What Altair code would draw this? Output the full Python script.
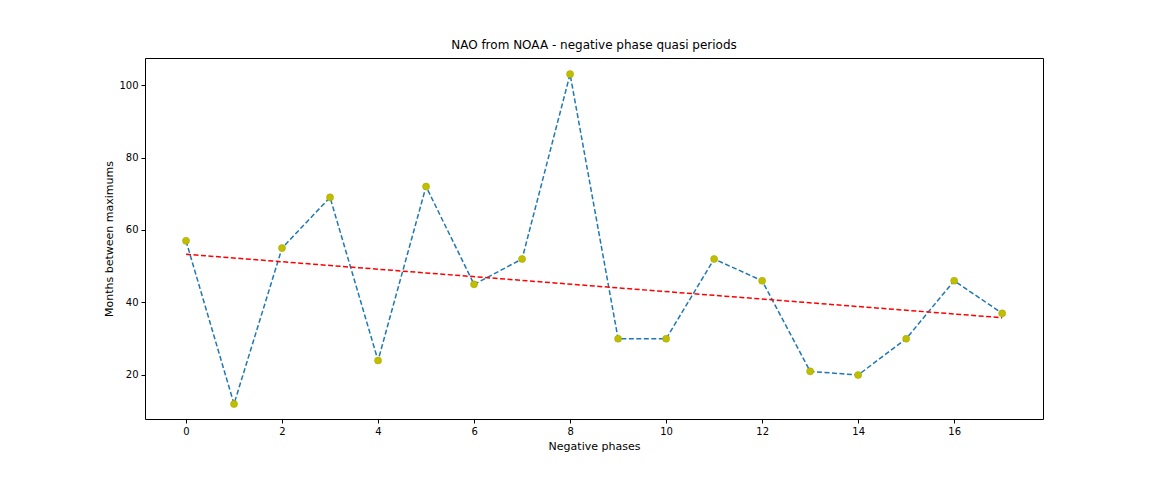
import altair as alt
import pandas as pd

phases = list(range(18))
months = [57, 12, 55, 69, 24, 72, 45, 52, 103, 30, 30, 52, 46, 21, 20, 30, 46, 37]
trend_x = [0, 17]
trend_y = [53.3, 35.8]

df = pd.DataFrame({"phase": phases, "months": months})
trend = pd.DataFrame({"phase": trend_x, "months": trend_y})

xs = alt.Scale(domain=[-0.854, 17.85], nice=False, zero=False)
ys = alt.Scale(domain=[7.86, 107.45], nice=False, zero=False)

axis_common = dict(
    labelFont="DejaVu Sans", titleFont="DejaVu Sans", labelFontSize=10, titleFontSize=11,
    titleFontWeight="normal", labelColor="black", titleColor="black", tickColor="black",
    domain=False, grid=False, tickSize=4, labelPadding=3,
)

x = alt.X("phase:Q", scale=xs, title="Negative phases",
          axis=alt.Axis(values=list(range(0, 18, 2)), **axis_common))
y = alt.Y("months:Q", scale=ys, title="Months between maximums",
          axis=alt.Axis(values=[20, 40, 60, 80, 100], **axis_common))

line = alt.Chart(df).mark_line(color="#1f77b4", strokeDash=[5, 2.5], strokeWidth=1.5).encode(x=x, y=y)
pts = alt.Chart(df).mark_point(filled=True, size=50, color="#bfbf00", stroke="#a0a000",
                               strokeWidth=0.5, opacity=1).encode(x=x, y=y)
tr = alt.Chart(trend).mark_line(color="red", strokeDash=[5, 2.5], strokeWidth=1.5).encode(x=x, y=y)

chart = (
    alt.layer(line, tr, pts)
    .properties(
        width=898, height=361,
        autosize=alt.AutoSizeParams(type="none"),
        padding={"left": 137, "top": 50, "right": 10, "bottom": 50},
        title=alt.TitleParams("NAO from NOAA - negative phase quasi periods",
                              font="DejaVu Sans", fontSize=12, fontWeight="normal", offset=6),
    )
    .configure_view(stroke="black", strokeWidth=1)
)

chart.save("out.html", embed_options={"renderer": "svg", "actions": False})
